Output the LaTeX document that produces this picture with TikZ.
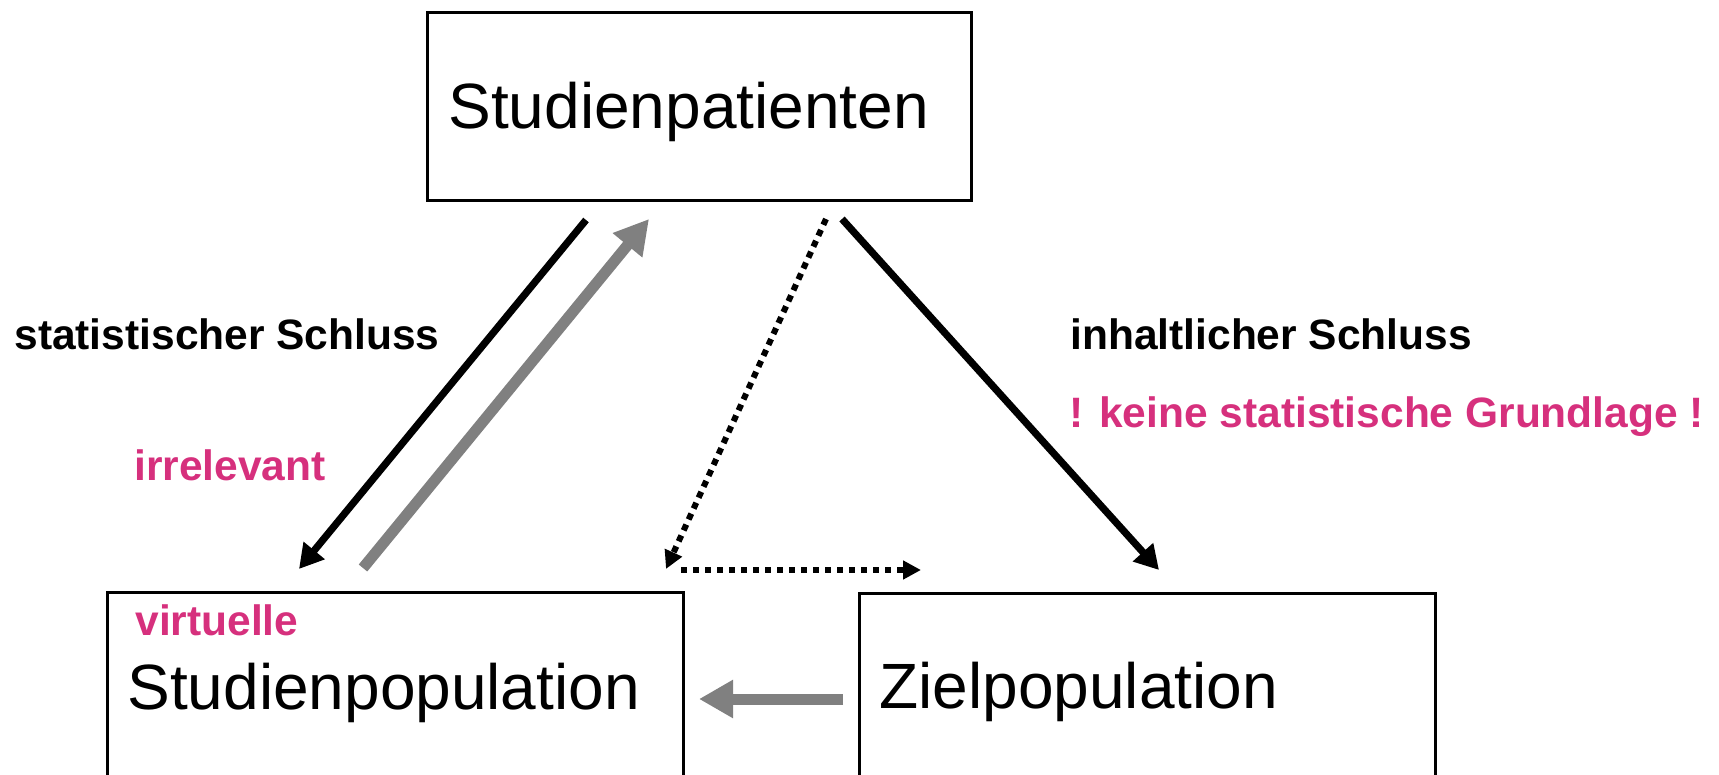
\documentclass[tikz,border=0pt]{standalone}
\usepackage{fontspec}
\setmainfont{Liberation Sans}
\usetikzlibrary{arrows.meta}
\definecolor{accent}{RGB}{214,48,125}
\definecolor{arrowgray}{RGB}{128,128,128}
\begin{document}
\begin{tikzpicture}[x=0.5pt,y=-0.5pt,
  box/.style={draw=black, line width=1.5pt, rectangle, inner sep=0pt, anchor=north west},
  bigtext/.style={inner sep=0pt, anchor=base west, font=\fontsize{32}{38}\selectfont},
  boldlabel/.style={inner sep=0pt, anchor=base west, font=\fontsize{21.25}{26}\selectfont\bfseries},
  pinklabel/.style={boldlabel, text=accent},
  blackarrow/.style={line width=3.6pt, -{Triangle[length=12pt,width=13pt]}},
  grayarrow/.style={draw=arrowgray, line width=5.5pt, -{Triangle[length=17pt,width=18pt]}},
  dotarrow/.style={line width=3pt, dash pattern=on 3.2pt off 2.8pt, -{Triangle[length=9pt,width=9pt]}}
]
\useasboundingbox (0,0) rectangle (1719,775);
\clip (0,0) rectangle (1719,775);

% boxes
\node[box, minimum width=272pt, minimum height=94pt] (patienten) at (426,11) {};
\node[box, minimum width=288pt, minimum height=105pt] (studpop) at (106,591) {};
\node[box, minimum width=288pt, minimum height=105pt] (zielpop) at (858,592) {};

% box texts
\node[bigtext] (tpat) at (448,129) {Studienpatienten};
\node[bigtext] (tstud) at (127,709) {Studienpopulation};
\node[bigtext] (tziel) at (879,708) {Zielpopulation};
\node[pinklabel] (virt) at (135,635) {virtuelle};

% side labels
\node[boldlabel] (stat) at (14,350) {statistischer Schluss};
\node[pinklabel] (irr) at (134,480) {irrelevant};
\node[boldlabel] (inh) at (1070,350) {inhaltlicher Schluss};
\node[pinklabel] (keine) at (1069,427) {! keine statistische Grundlage !};

% connector end points
\coordinate (sdownA) at (586,220);
\coordinate (sdownB) at (299,569);
\coordinate (supA) at (363,568);
\coordinate (supB) at (649,219);
\coordinate (dotA) at (826,219);
\coordinate (dotB) at (666,569);
\coordinate (dotC) at (681,570);
\coordinate (dotD) at (921,570);
\coordinate (inhA) at (842,219);
\coordinate (inhB) at (1159,570);
\coordinate (backA) at (843,699);
\coordinate (backB) at (699,699);

% connectors
\draw[blackarrow] (sdownA) -- (sdownB);
\draw[grayarrow] (supA) -- (supB);
\draw[dotarrow] (dotA) -- (dotB);
\draw[dotarrow] (dotC) -- (dotD);
\draw[blackarrow] (inhA) -- (inhB);
\draw[grayarrow] (backA) -- (backB);
\end{tikzpicture}
\end{document}
